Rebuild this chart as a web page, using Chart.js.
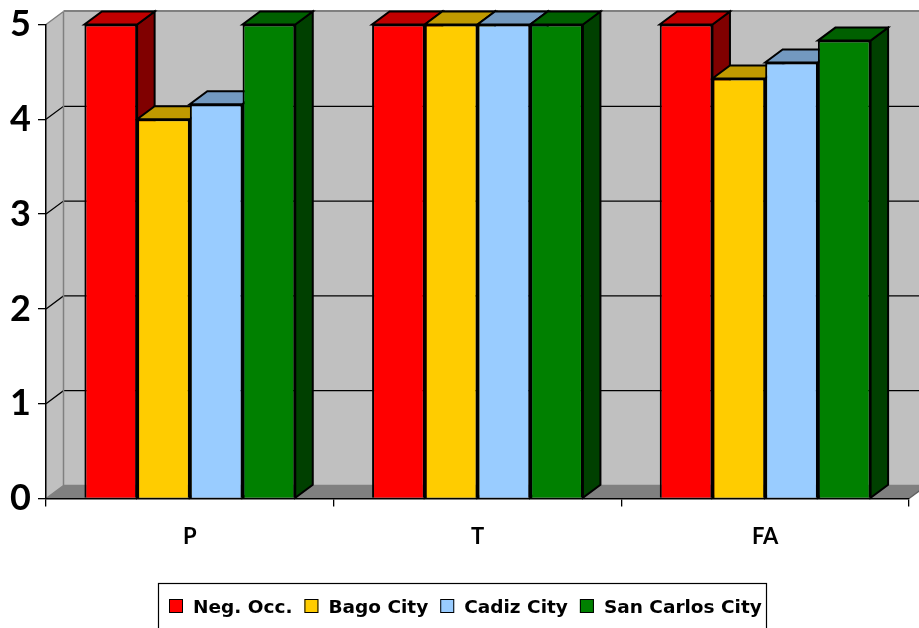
<!DOCTYPE html>
<html>
<head>
<meta charset="utf-8">
<script src="https://cdn.jsdelivr.net/npm/chart.js@4/dist/chart.umd.min.js"></script>
<style>
  html, body { margin: 0; padding: 0; background: #ffffff; }
  #wrap { width: 919px; height: 628px; position: relative; overflow: hidden; }
</style>
</head>
<body>
<div id="wrap"><canvas id="c" width="919" height="628"></canvas></div>
<script>
// Categories and series values
const categories = ['P', 'T', 'FA'];
const seriesNames = ['Neg. Occ.', 'Bago City', 'Cadiz City', 'San Carlos City'];
const negOcc = [5, 5, 5];
const bagoCity = [4.0, 5, 4.43];
const cadizCity = [4.16, 5, 4.6];
const sanCarlosCity = [5, 5, 4.83];
const yTicks = [0, 1, 2, 3, 4, 5];

// Face / top / side shades for each series
const frontColors = ['#FF0000', '#FFCC00', '#99CCFF', '#008000'];
const topColors   = ['#C00000', '#C09A00', '#7399C0', '#006000'];
const sideColors  = ['#800000', '#997A00', '#5C7A99', '#004000'];

const FONT = 'Lato, "Open Sans", sans-serif';
const LEGEND_FONT = '"DejaVu Sans", sans-serif';
const DEPTH_X = 17.5;
const DEPTH_Y = 13;

// Walls, floor and back-wall gridlines of the 3D box
const wallsPlugin = {
  id: 'walls',
  beforeDraw(chart) {
    const { ctx, chartArea: a, scales } = chart;
    const y = scales.y;
    const L = a.left, R = a.right, T = a.top, B = a.bottom;
    ctx.save();
    // back wall
    ctx.fillStyle = '#C0C0C0';
    ctx.fillRect(L + DEPTH_X, T - DEPTH_Y, R - L + 20, B - T);
    // left wall
    ctx.beginPath();
    ctx.moveTo(L, B); ctx.lineTo(L, T);
    ctx.lineTo(L + DEPTH_X, T - DEPTH_Y); ctx.lineTo(L + DEPTH_X, B - DEPTH_Y);
    ctx.closePath();
    ctx.fillStyle = '#C0C0C0';
    ctx.fill();
    // floor
    ctx.beginPath();
    ctx.moveTo(L, B); ctx.lineTo(L + DEPTH_X, B - DEPTH_Y);
    ctx.lineTo(R + DEPTH_X, B - DEPTH_Y); ctx.lineTo(R, B);
    ctx.closePath();
    ctx.fillStyle = '#808080';
    ctx.fill();

    // gridlines on back and left walls
    ctx.strokeStyle = '#000000';
    ctx.lineWidth = 1.3;
    yTicks.forEach(v => {
      if (v === 0 || v === yTicks[yTicks.length - 1]) return;
      const py = y.getPixelForValue(v);
      ctx.beginPath();
      ctx.moveTo(L, py);
      ctx.lineTo(L + DEPTH_X, py - DEPTH_Y);
      ctx.lineTo(R + DEPTH_X + 20, py - DEPTH_Y);
      ctx.stroke();
    });

    // wall edges
    ctx.strokeStyle = '#808080';
    ctx.lineWidth = 1.5;
    ctx.beginPath();
    ctx.moveTo(L, T); ctx.lineTo(L + DEPTH_X, T - DEPTH_Y);
    ctx.moveTo(L + DEPTH_X, T - DEPTH_Y); ctx.lineTo(L + DEPTH_X, B - DEPTH_Y);
    ctx.lineTo(R + DEPTH_X + 20, B - DEPTH_Y);
    ctx.moveTo(L, B); ctx.lineTo(L + DEPTH_X, B - DEPTH_Y);
    ctx.stroke();
    ctx.lineWidth = 2;
    ctx.beginPath();
    ctx.moveTo(L + DEPTH_X, T - DEPTH_Y - 0.5);
    ctx.lineTo(R + DEPTH_X + 20, T - DEPTH_Y - 0.5);
    ctx.stroke();
    ctx.strokeStyle = '#606060';
    ctx.lineWidth = 1.5;
    ctx.beginPath();
    ctx.moveTo(R, B); ctx.lineTo(R + DEPTH_X, B - DEPTH_Y);
    ctx.stroke();
    ctx.restore();
  }
};

// Top and side faces of each column, drawn behind the front faces
const columns3dPlugin = {
  id: 'columns3d',
  beforeDatasetsDraw(chart) {
    const { ctx } = chart;
    const bars = [];
    chart.data.datasets.forEach((ds, di) => {
      const meta = chart.getDatasetMeta(di);
      meta.data.forEach(el => {
        const p = el.getProps(['x', 'y', 'base', 'width'], true);
        bars.push({ di, xl: p.x - p.width / 2, xr: p.x + p.width / 2, yt: p.y, yb: p.base });
      });
    });
    ctx.save();
    ctx.lineWidth = 2;
    ctx.strokeStyle = '#000000';
    ctx.lineJoin = 'miter';
    bars.forEach(b => {
      ctx.beginPath();
      ctx.moveTo(b.xr, b.yt);
      ctx.lineTo(b.xr + DEPTH_X, b.yt - DEPTH_Y);
      ctx.lineTo(b.xr + DEPTH_X, b.yb - DEPTH_Y);
      ctx.lineTo(b.xr, b.yb);
      ctx.closePath();
      ctx.fillStyle = sideColors[b.di];
      ctx.fill();
      ctx.stroke();
    });
    bars.forEach(b => {
      ctx.beginPath();
      ctx.moveTo(b.xl, b.yt);
      ctx.lineTo(b.xr, b.yt);
      ctx.lineTo(b.xr + DEPTH_X, b.yt - DEPTH_Y);
      ctx.lineTo(b.xl + DEPTH_X, b.yt - DEPTH_Y);
      ctx.closePath();
      ctx.fillStyle = topColors[b.di];
      ctx.fill();
      ctx.stroke();
    });
    ctx.restore();
  }
};

// Boxed legend below the chart
const boxLegendPlugin = {
  id: 'boxLegend',
  afterDraw(chart) {
    const { ctx } = chart;
    ctx.save();
    ctx.strokeStyle = '#000000';
    ctx.lineWidth = 1.2;
    ctx.strokeRect(158.5, 583.5, 608, 80);
    ctx.font = 'bold 18.5px ' + LEGEND_FONT;
    ctx.textBaseline = 'alphabetic';
    let x = 169;
    chart.data.datasets.forEach((ds, i) => {
      ctx.fillStyle = frontColors[i];
      ctx.fillRect(x, 599, 14, 14);
      ctx.lineWidth = 1;
      ctx.strokeStyle = '#000000';
      ctx.strokeRect(x + 0.5, 599.5, 13, 13);
      x += 24;
      ctx.fillStyle = '#000000';
      ctx.fillText(ds.label, x, 613);
      x += ctx.measureText(ds.label).width + 12;
    });
    ctx.restore();
  }
};

const seriesValues = [negOcc, bagoCity, cadizCity, sanCarlosCity];

function buildChart() {
  new Chart(document.getElementById('c'), {
    type: 'bar',
    data: {
      labels: categories,
      datasets: seriesNames.map((name, i) => ({
        label: name,
        data: seriesValues[i],
        backgroundColor: frontColors[i],
        borderColor: '#000000',
        borderWidth: 2,
        categoryPercentage: 0.733,
        barPercentage: 1.0
      }))
    },
    options: {
      responsive: false,
      animation: false,
      devicePixelRatio: 1,
      layout: { padding: { top: 24.5, right: 10, left: 0, bottom: 0 } },
      plugins: { legend: { display: false }, tooltip: { enabled: false } },
      scales: {
        x: {
          grid: { display: true, drawOnChartArea: false, drawTicks: true, tickLength: 8, color: '#000000', lineWidth: 1.3, offset: true },
          border: { display: true, color: '#000000', width: 1.5 },
          ticks: { color: '#000000', font: { family: FONT, size: 22, weight: 'bold' }, padding: 17, maxRotation: 0 },
          afterFit(scale) { scale.height = 129.5; }
        },
        y: {
          min: 0, max: 5,
          afterBuildTicks(scale) { scale.ticks = yTicks.map(v => ({ value: v })); },
          grid: { display: true, drawOnChartArea: false, drawTicks: true, tickLength: 8, color: '#000000', lineWidth: 1.3 },
          border: { display: true, color: '#000000', width: 1.5 },
          ticks: { color: '#000000', font: { family: FONT, size: 36, weight: 'bold', lineHeight: 0.9 }, padding: 7 },
          afterFit(scale) { scale.width = 46; }
        }
      }
    },
    plugins: [wallsPlugin, columns3dPlugin, boxLegendPlugin]
  });
}

// Make sure the label fonts are ready before the first draw
Promise.all([
  document.fonts.load('bold 36px Lato'),
  document.fonts.load('bold 22px Lato'),
  document.fonts.load('bold 18.5px "DejaVu Sans"')
]).catch(() => {}).then(buildChart);
</script>
</body>
</html>
